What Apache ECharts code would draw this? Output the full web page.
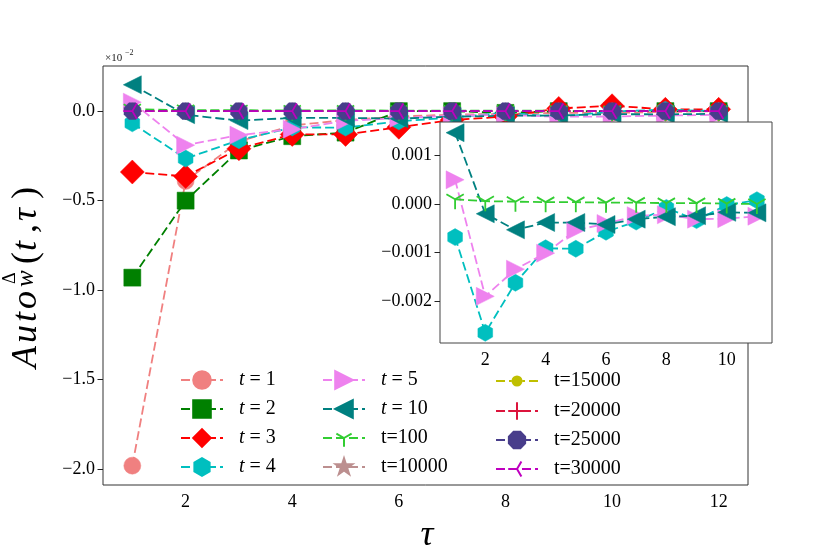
<!DOCTYPE html>
<html>
<head>
<meta charset="utf-8">
<script src="https://cdn.jsdelivr.net/npm/echarts@6/dist/echarts.min.js"></script>
<style>html,body{margin:0;padding:0;background:#fff}#main{width:830px;height:554px}</style>
</head>
<body>
<div id="main"></div>
<script>
// lag values
var tau = [1, 2, 3, 4, 5, 6, 7, 8, 9, 10, 11, 12];

// autocorrelation values (raw, main axis shows them x10^-2)
var t1 = [-0.0198, -0.0039, -0.0017, -0.0008, -0.0005, -0.0003, -0.0002, -0.00015, -0.0001, -0.0001, -0.00005, 0.0];
var t2 = [-0.0093, -0.0050, -0.0022, -0.0014, -0.0012, 0.0, 0.0, -0.0001, 0.0, 0.0, 0.0, 0.0];
var t3 = [-0.0034, -0.00365, -0.0021, -0.0013, -0.0013, -0.0009, -0.0005, -0.0003, 0.00015, 0.0003, 0.0001, 0.0001];
var t4 = [-0.00068, -0.00265, -0.00162, -0.00091, -0.00092, -0.00057, -0.00036, -0.00008, -0.00033, -0.00002, 0.00008, 0.0];
var t5 = [0.0005, -0.0019, -0.00134, -0.00101, -0.00054, -0.0004, -0.00024, -0.00022, -0.00031, -0.0003, -0.00025, -0.0002];
var t10 = [0.00147, -0.0002, -0.00053, -0.00038, -0.00038, -0.00042, -0.00031, -0.00026, -0.00024, -0.00017, -0.00018, -0.00015];
var t100 = [0.0001, 0.00006, 0.00005, 0.00004, 0.00004, 0.00003, 0.00003, 0.00002, 0.00002, 0.00001, 0.0, 0.0];
var t10000 = [0, 0, 0, 0, 0, 0, 0, 0, 0, 0, 0, 0];
var t15000 = [0, 0, 0, 0, 0, 0, 0, 0, 0, 0, 0, 0];
var t20000 = [0, 0, 0, 0, 0, 0, 0, 0, 0, 0, 0, 0];
var t25000 = [0, 0, 0, 0, 0, 0, 0, 0, 0, 0, 0, 0];
var t30000 = [0, 0, 0, 0, 0, 0, 0, 0, 0, 0, 0, 0];

var insetLen = 11; // inset only shows tau 1..11

// tick positions
var mainXTicks = [2, 4, 6, 8, 10, 12];
var mainYTicks = [-0.02, -0.015, -0.01, -0.005, 0];
var insetXTicks = [2, 4, 6, 8, 10];
var insetYTicks = [-0.002, -0.001, 0, 0.001];

var SERIF = '"Liberation Serif", "DejaVu Serif", serif';

// matplotlib-like marker shapes
var BOX = ' M-1 -1 L-1 -1 M1 1 L1 1';
function poly(pts) {
    return 'path://' + pts.map(function (p, i) {
        return (i ? 'L' : 'M') + p[0].toFixed(4) + ' ' + p[1].toFixed(4);
    }).join(' ') + ' Z' + BOX;
}
function ring(n, start, r) {
    var pts = [];
    for (var k = 0; k < n; k++) {
        var a = (start + k * 360 / n) * Math.PI / 180;
        pts.push([r * Math.cos(a), -r * Math.sin(a)]);
    }
    return pts;
}
var starPts = [];
for (var k = 0; k < 10; k++) {
    var a = (90 + k * 36) * Math.PI / 180, r = k % 2 ? 0.382 : 1;
    starPts.push([r * Math.cos(a), -r * Math.sin(a)]);
}
var SYM = {
    hexagon: poly(ring(6, 90, 1)),
    octagon: poly(ring(8, 22.5, 1)),
    star: poly(starPts),
    triRight: 'path://M1 0 L-1 1 L-1 -1 Z',
    triLeft: 'path://M-1 0 L1 -1 L1 1 Z',
    triDown: 'path://M0 0 L0 1 M0 0 L-0.866 -0.5 M0 0 L0.866 -0.5' + BOX,
    triLeftLine: 'path://M0 0 L-1 0 M0 0 L0.5 -0.866 M0 0 L0.5 0.866' + BOX,
    plus: 'path://M-1 0 L1 0 M0 -1 L0 1'
};

// legend icon for the small-dot series: dashed line with a small dot, in a 42x22 box
var smallDotIcon = 'path://M0 10.1 L9 10.1 L9 11.9 L0 11.9 Z M13 10.1 L15.5 10.1 L15.5 11.9 L13 11.9 Z ' +
    'M26.5 10.1 L29 10.1 L29 11.9 L26.5 11.9 Z M33 10.1 L42 10.1 L42 11.9 L33 11.9 Z ' +
    'M15.5 11 A5.5 5.5 0 1 0 26.5 11 A5.5 5.5 0 1 0 15.5 11 Z M0 0 L0 0 M42 22 L42 22';

var specs = [
    {name: 't = 1', data: t1, color: '#f08080', symbol: 'circle', size: 17},
    {name: 't = 2', data: t2, color: '#008000', symbol: 'rect', size: 17},
    {name: 't = 3', data: t3, color: '#ff0000', symbol: 'diamond', size: 24},
    {name: 't = 4', data: t4, color: '#00bfbf', symbol: SYM.hexagon, size: 17},
    {name: 't = 5', data: t5, color: '#ee82ee', symbol: SYM.triRight, size: 18},
    {name: 't = 10', data: t10, color: '#008080', symbol: SYM.triLeft, size: 18},
    {name: 't=100', data: t100, color: '#32cd32', symbol: SYM.triDown, size: 20, line: true},
    {name: 't=10000', data: t10000, color: '#bc8f8f', symbol: SYM.star, size: 17},
    {name: 't=15000', data: t15000, color: '#bfbf00', symbol: 'circle', size: 9},
    {name: 't=20000', data: t20000, color: '#dc143c', symbol: SYM.plus, size: 16, line: true},
    {name: 't=25000', data: t25000, color: '#483d8b', symbol: SYM.octagon, size: 18},
    {name: 't=30000', data: t30000, color: '#bf00bf', symbol: SYM.triLeftLine, size: 18, line: true}
];
var insetNames = ['t = 4', 't = 5', 't = 10', 't=100'];

function makeSeries(s, inset) {
    var n = inset ? insetLen : tau.length;
    return {
        name: s.name,
        type: 'line',
        xAxisIndex: inset ? 1 : 0,
        yAxisIndex: inset ? 1 : 0,
        z: inset ? 12 : 2,
        data: s.data.slice(0, n).map(function (v, i) { return [tau[i], v]; }),
        symbol: s.symbol,
        symbolSize: s.size,
        showAllSymbol: true,
        color: s.color,
        lineStyle: {color: s.color, width: 1.8, type: [9, 4]},
        itemStyle: s.line
            ? {color: 'rgba(0,0,0,0)', borderColor: s.color, borderWidth: 1.8}
            : {color: s.color, borderColor: s.color, borderWidth: 0.5},
        emphasis: {disabled: true},
        animation: false
    };
}

var series = specs.map(function (s) { return makeSeries(s, false); });
specs.forEach(function (s) {
    if (insetNames.indexOf(s.name) >= 0) series.push(makeSeries(s, true));
});

function minus(s) { return s.replace('-', '\u2212'); }
var tickFont = {color: '#000', fontSize: 18, fontFamily: SERIF};
var tickLine = {color: '#222', width: 1};

function legendCol(names, left) {
    return {
        data: names,
        orient: 'vertical',
        left: left,
        top: 365,
        itemWidth: 42,
        itemHeight: 22,
        itemGap: 9,
        formatter: function (name) {
            return name.indexOf('t = ') === 0 ? '{i|t} = ' + name.slice(4) : name;
        },
        textStyle: {
            color: '#000', fontSize: 20, fontFamily: SERIF, padding: [0, 0, 0, 11],
            rich: {i: {fontStyle: 'italic', fontSize: 20, fontFamily: SERIF, color: '#000'}}
        },
        selectedMode: false
    };
}

var myChart = echarts.init(document.getElementById('main'));
var option = {
    backgroundColor: '#fff',
    animation: false,
    grid: [
        {left: 103, top: 66, width: 645, height: 419, show: true, borderColor: '#333', borderWidth: 1},
        {left: 440, top: 122, width: 332, height: 221, show: true, backgroundColor: '#fff',
            borderColor: '#444', borderWidth: 1, z: 10}
    ],
    xAxis: [
        {
            type: 'value', gridIndex: 0, min: 0.45, max: 12.55,
            axisLine: {show: false}, splitLine: {show: false},
            axisTick: {show: true, length: 5.5, customValues: mainXTicks, lineStyle: tickLine},
            axisLabel: {customValues: mainXTicks, margin: 8, ...tickFont}
        },
        {
            type: 'value', gridIndex: 1, min: 0.5, max: 11.5, z: 11,
            axisLine: {show: false}, splitLine: {show: false},
            axisTick: {show: true, length: 5.5, customValues: insetXTicks, lineStyle: tickLine},
            axisLabel: {customValues: insetXTicks, margin: 8, ...tickFont}
        }
    ],
    yAxis: [
        {
            type: 'value', gridIndex: 0, min: -0.02088, max: 0.00252,
            axisLine: {show: false}, splitLine: {show: false},
            axisTick: {show: true, length: 5.5, customValues: mainYTicks, lineStyle: tickLine},
            axisLabel: {
                customValues: mainYTicks, margin: 8, ...tickFont,
                formatter: function (v) {
                    var s = (v * 100).toFixed(1);
                    return s === '-0.0' ? '0.0' : minus(s);
                }
            }
        },
        {
            type: 'value', gridIndex: 1, min: -0.00286, max: 0.00169, z: 11,
            axisLine: {show: false}, splitLine: {show: false},
            axisTick: {show: true, length: 5.5, customValues: insetYTicks, lineStyle: tickLine},
            axisLabel: {
                customValues: insetYTicks, margin: 8, ...tickFont,
                formatter: function (v) {
                    var s = v.toFixed(3);
                    return s === '-0.000' ? '0.000' : minus(s);
                }
            }
        }
    ],
    legend: [
        legendCol(['t = 1', 't = 2', 't = 3', 't = 4'], 175),
        legendCol(['t = 5', 't = 10', 't=100', 't=10000'], 317),
        legendCol([{name: 't=15000', icon: smallDotIcon, itemStyle: {borderWidth: 0}},
            't=20000', 't=25000', 't=30000'], 490)
    ],
    graphic: [
        // offset text of the main y axis
        {type: 'text', x: 105, y: 53, style: {text: '\u00d710', font: '11px ' + SERIF, fill: '#222'}},
        {type: 'text', x: 125, y: 49, style: {text: '\u22122', font: '8px ' + SERIF, fill: '#222'}},
        // x axis title
        {type: 'text', x: 427, y: 536, style: {text: '\u03c4', font: 'italic 36px ' + SERIF, fill: '#000', align: 'center', verticalAlign: 'middle'}},
        // y axis title, rotated
        {
            type: 'group', x: 38, y: 368, rotation: Math.PI / 2,
            children: [
                ['A', 0, 'italic 36px', -11],
                ['u', 25, 'italic 36px', -11],
                ['t', 46, 'italic 36px', -11],
                ['o', 59, 'italic 36px', -11],
                ['\u0394', 84, '18px', -28],
                ['w', 81, 'italic 25px', -12],
                ['(', 104, '36px', -11],
                ['t', 117, 'italic 36px', -11],
                [',', 135, '36px', -11],
                ['\u03c4', 147, 'italic 36px', -11],
                [')', 169, '36px', -11]
            ].map(function (c) {
                return {type: 'text', x: c[1], y: c[3],
                    style: {text: c[0], font: c[2] + ' ' + SERIF, fill: '#000', align: 'left', verticalAlign: 'middle'}};
            })
        }
    ],
    series: series
};
myChart.setOption(option);
</script>
</body>
</html>
